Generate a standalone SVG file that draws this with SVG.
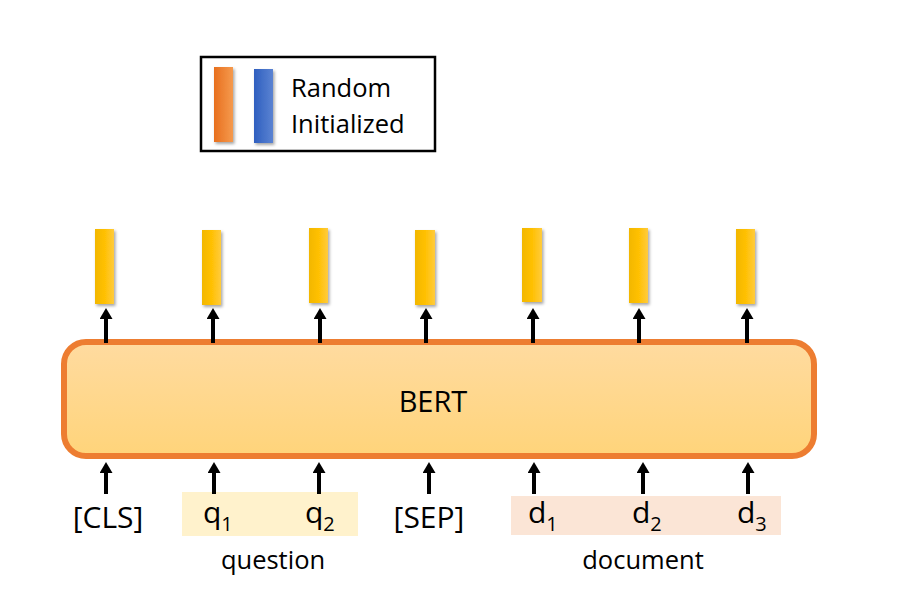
<svg xmlns="http://www.w3.org/2000/svg" width="923" height="596" viewBox="0 0 923 596">
<defs>
<linearGradient id="gY" x1="0" y1="0" x2="1" y2="0">
<stop offset="0" stop-color="#f2b700"/><stop offset="0.5" stop-color="#ffc000"/><stop offset="1" stop-color="#ffcb3d"/>
</linearGradient>
<linearGradient id="gO" x1="0" y1="0" x2="1" y2="0">
<stop offset="0" stop-color="#e86f1e"/><stop offset="1" stop-color="#f59a4e"/>
</linearGradient>
<linearGradient id="gB" x1="0" y1="0" x2="1" y2="0">
<stop offset="0" stop-color="#2f5fbf"/><stop offset="1" stop-color="#5b83d2"/>
</linearGradient>
<linearGradient id="gBert" x1="0" y1="0" x2="0" y2="1">
<stop offset="0" stop-color="#ffdba0"/><stop offset="1" stop-color="#ffd47a"/>
</linearGradient>
<filter id="sh" x="-50%" y="-20%" width="200%" height="140%">
<feDropShadow dx="1.5" dy="2" stdDeviation="1.5" flood-color="#000" flood-opacity="0.35"/>
</filter>
<marker id="ah" viewBox="0 0 11 13" refX="2" refY="6.5" markerWidth="11" markerHeight="13" markerUnits="userSpaceOnUse" orient="auto">
<path d="M0,0 L11,6.5 L0,13 Z" fill="#000"/>
</marker>
</defs>
<style>
text{font-family:"Open Sans","Noto Sans","DejaVu Sans",sans-serif;fill:#000;}
.tok{font-size:30px;}
.sub{font-size:20px;}
.lab{font-size:25.5px;}
.bar{fill:url(#gY);filter:url(#sh);}
.arr{stroke:#000;stroke-width:4;fill:none;}
</style>
<g id="legend">
<rect x="201" y="57" width="234" height="94" fill="#fff" stroke="#000" stroke-width="2.5"/>
<rect x="214" y="67" width="19" height="75" fill="url(#gO)" filter="url(#sh)"/>
<rect x="254" y="69" width="19" height="74" fill="url(#gB)" filter="url(#sh)"/>
<text class="lab" x="291" y="97">Random</text>
<text class="lab" x="291" y="133">Initialized</text>
</g>
<g id="outputs">
<rect class="bar" x="95" y="229" width="19" height="75"/>
<rect class="bar" x="202" y="230" width="19" height="75"/>
<rect class="bar" x="309" y="228" width="19" height="75"/>
<rect class="bar" x="415" y="230" width="20" height="75"/>
<rect class="bar" x="522" y="228" width="20" height="74"/>
<rect class="bar" x="629" y="228" width="19" height="75"/>
<rect class="bar" x="736" y="229" width="19" height="75"/>
</g>
<g id="bert">
<rect x="64" y="342" width="750" height="114" rx="22" ry="22" fill="url(#gBert)" stroke="#ed7d31" stroke-width="6"/>
<text x="433" y="412" font-size="29" text-anchor="middle">BERT</text>
</g>
<g id="highlights">
<rect x="182" y="492" width="176" height="44" fill="#fff2cc"/>
<rect x="511" y="496" width="270" height="39" fill="#fbe5d6"/>
</g>
<g id="tokens">
<text class="tok" x="108" y="528" text-anchor="middle">[CLS]</text>
<text class="tok" x="203" y="523">q<tspan class="sub" dy="8">1</tspan></text>
<text class="tok" x="305" y="523">q<tspan class="sub" dy="8">2</tspan></text>
<text class="tok" x="429" y="528" text-anchor="middle">[SEP]</text>
<text class="tok" x="528" y="523">d<tspan class="sub" dy="8">1</tspan></text>
<text class="tok" x="632" y="523">d<tspan class="sub" dy="8">2</tspan></text>
<text class="tok" x="737" y="523">d<tspan class="sub" dy="8">3</tspan></text>
<text class="lab" x="273" y="569" text-anchor="middle">question</text>
<text class="lab" x="643" y="569" text-anchor="middle">document</text>
</g>
<g id="connectors">
<line class="arr" x1="106" y1="343" x2="106" y2="317" marker-end="url(#ah)"/>
<line class="arr" x1="213" y1="343" x2="213" y2="317" marker-end="url(#ah)"/>
<line class="arr" x1="320" y1="343" x2="320" y2="317" marker-end="url(#ah)"/>
<line class="arr" x1="426" y1="343" x2="426" y2="317" marker-end="url(#ah)"/>
<line class="arr" x1="533" y1="343" x2="533" y2="317" marker-end="url(#ah)"/>
<line class="arr" x1="639" y1="343" x2="639" y2="317" marker-end="url(#ah)"/>
<line class="arr" x1="747" y1="343" x2="747" y2="317" marker-end="url(#ah)"/>
<line class="arr" x1="106" y1="494" x2="106" y2="471" marker-end="url(#ah)"/>
<line class="arr" x1="214" y1="494" x2="214" y2="471" marker-end="url(#ah)"/>
<line class="arr" x1="319" y1="494" x2="319" y2="471" marker-end="url(#ah)"/>
<line class="arr" x1="429" y1="494" x2="429" y2="471" marker-end="url(#ah)"/>
<line class="arr" x1="534" y1="494" x2="534" y2="471" marker-end="url(#ah)"/>
<line class="arr" x1="643" y1="494" x2="643" y2="471" marker-end="url(#ah)"/>
<line class="arr" x1="748" y1="494" x2="748" y2="471" marker-end="url(#ah)"/>
</g>
</svg>
